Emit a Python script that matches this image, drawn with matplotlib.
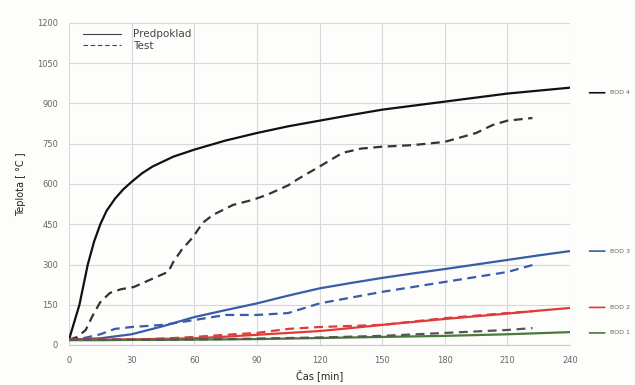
import matplotlib.pyplot as plt
import numpy as np

# casy [min] a teploty [°C]
t_pred4 = [0, 5, 9, 12, 15, 18, 22, 26, 30, 35, 40, 50, 60, 75, 90, 105, 120, 135, 150, 165, 180, 195,
           210, 225, 240]
bod4_pred = [20, 150, 300, 385, 450, 500, 545, 580, 608, 640, 665, 702, 728, 762, 790, 815, 836, 857,
             877, 892, 907, 922, 937, 948, 959]

t_test4 = [0, 4, 8, 11.5, 15, 19.6, 25, 31, 42, 47.6, 50, 54, 59.5, 64, 69, 78.6, 88, 95, 105, 110,
           120, 131, 140, 150, 165, 180, 195, 203, 210, 222]
bod4_test = [20, 30, 56, 112, 160, 194, 208, 216, 254, 273, 310, 355, 403, 455, 485, 522, 541, 560,
             595, 620, 665, 716, 732, 739, 745, 757, 790, 820, 836, 846]

t_pred = [0, 15, 30, 45, 60, 75, 90, 105, 120, 135, 150, 165, 180, 195, 210, 225, 240]
bod3_pred = [20, 25, 40, 70, 104, 130, 155, 184, 211, 231, 250, 267, 283, 300, 317, 334, 350]
bod2_pred = [20, 20, 21, 23, 25, 31, 38, 45, 52, 63, 75, 86, 97, 107, 117, 128, 138]
bod1_pred = [18, 18, 19, 19, 20, 21, 22, 24, 26, 28, 30, 32, 34, 37, 40, 44, 48]

t_test = [0, 5, 15, 22, 30, 45, 60, 75, 90, 105, 120, 150, 180, 210, 222]
bod3_test = [20, 22, 40, 60, 67, 75, 93, 112, 112, 119, 155, 198, 235, 272, 298]
bod2_test = [20, 20, 20, 20, 20, 24, 30, 38, 45, 60, 67, 75, 100, 119, 126]
bod1_test = [20, 20, 20, 20, 20, 20, 21, 22, 24, 26, 28, 34, 45, 56, 63]

labels = ['BOD 4', 'BOD 3', 'BOD 2', 'BOD 1']
label_y = [940, 350, 140, 45]
colors = ['#111111', '#3a5ca8', '#e03a3a', '#4a7a3a']
test_colors = ['#333333', '#3a5ca8', '#e03a3a', '#555555']

fig = plt.figure(figsize=(6.35, 3.85), dpi=100)
fig.patch.set_facecolor('#fdfdfb')
ax = fig.add_axes([69 / 635, 1 - 345 / 385, (570 - 69) / 635, (345 - 23) / 385])
ax.set_facecolor('#fdfdfb')

preds = [(t_pred4, bod4_pred), (t_pred, bod3_pred), (t_pred, bod2_pred), (t_pred, bod1_pred)]
tests = [(t_test4, bod4_test), (t_test, bod3_test), (t_test, bod2_test), (t_test, bod1_test)]

for i in range(4):
    ax.plot(preds[i][0], preds[i][1], color=colors[i], lw=1.6, solid_joinstyle='round')
    ax.plot(tests[i][0], tests[i][1], color=test_colors[i], lw=1.6, ls=(0, (4, 2.5)))

# legenda
ax.plot([], [], color='#444444', lw=0.8, label='Predpoklad')
ax.plot([], [], color='#444444', lw=0.8, ls=(0, (4, 2.5)), label='Test')
leg = ax.legend(loc='upper left', frameon=False, fontsize=7.5, handlelength=3.6,
                bbox_to_anchor=(0.01, 1.01), labelcolor='#444444', handletextpad=1.2,
                labelspacing=0.15)

# popisky bodu vpravo
for lab, yv, c in zip(labels, label_y, colors):
    ax.annotate('', xy=(258, yv), xytext=(248, yv), xycoords='data', annotation_clip=False,
                arrowprops=dict(arrowstyle='-', color=c, lw=1.2))
    ax.text(259, yv, lab, fontsize=4.5, color='#666666', va='center', ha='left', clip_on=False)

ax.set_xlim(0, 240)
ax.set_ylim(0, 1200)
ax.set_xticks(np.arange(0, 241, 30))
ax.set_yticks(np.arange(0, 1201, 150))
ax.grid(True, color='#d8d8d8', lw=0.8)
ax.set_axisbelow(True)
for s in ['top', 'right', 'left']:
    ax.spines[s].set_visible(False)
ax.spines['bottom'].set_color('#cccccc')
ax.tick_params(length=0, labelsize=6, colors='#666666', pad=8)
ax.set_xlabel('Čas [min]', fontsize=7, color='#222222', labelpad=3)
ax.set_ylabel('Teplota [ °C ]', fontsize=7, color='#222222', labelpad=8)

fig.savefig('out.png', dpi=100, facecolor=fig.get_facecolor())
